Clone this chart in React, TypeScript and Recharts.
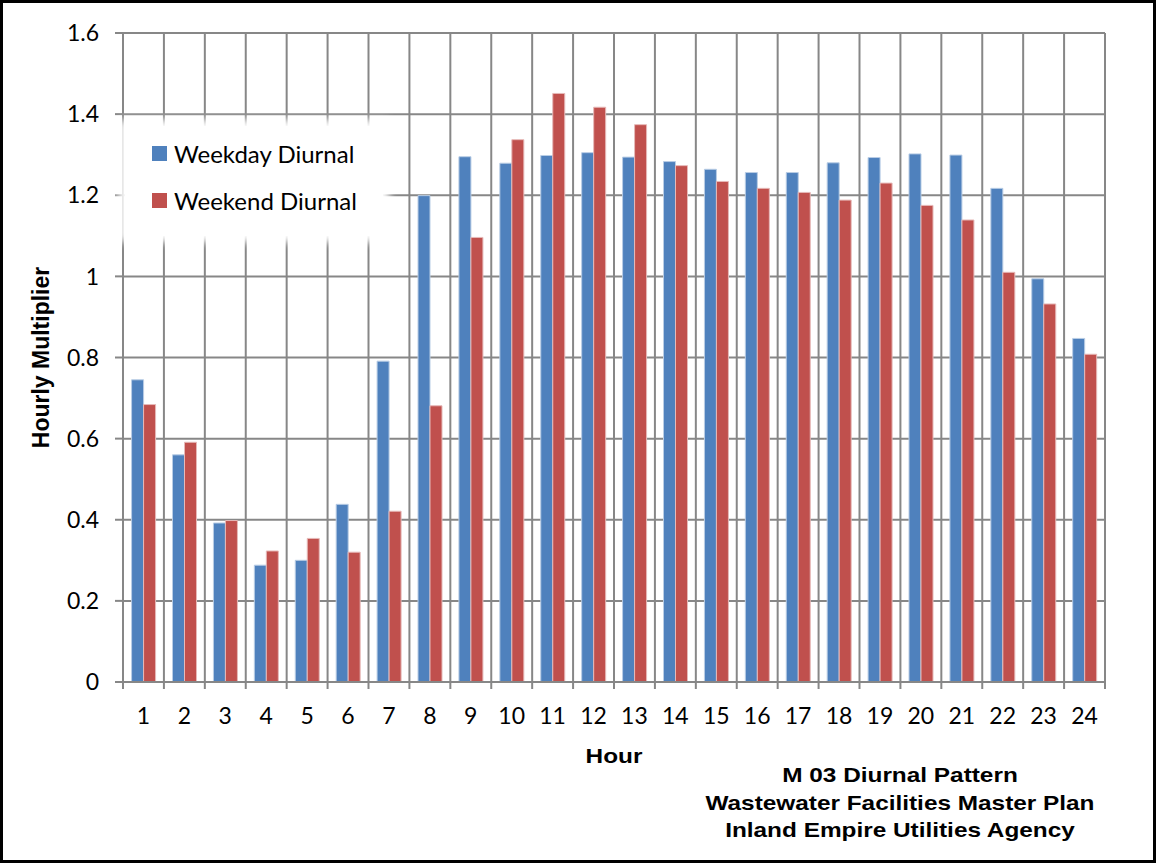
import React from "react";
import {
  BarChart,
  Bar,
  XAxis,
  YAxis,
  CartesianGrid,
} from "recharts";

const hours = ["1", "2", "3", "4", "5", "6", "7", "8", "9", "10", "11", "12", "13", "14", "15", "16", "17", "18", "19", "20", "21", "22", "23", "24"];
const weekday = [0.745, 0.56, 0.392, 0.288, 0.3, 0.438, 0.791, 1.199, 1.295, 1.279, 1.298, 1.305, 1.294, 1.283, 1.264, 1.256, 1.256, 1.28, 1.293, 1.302, 1.299, 1.217, 0.994, 0.847];
const weekend = [0.684, 0.591, 0.398, 0.323, 0.354, 0.32, 0.421, 0.681, 1.096, 1.337, 1.451, 1.417, 1.374, 1.273, 1.234, 1.217, 1.207, 1.188, 1.23, 1.175, 1.139, 1.01, 0.932, 0.808];
const yTicks = [0, 0.2, 0.4, 0.6, 0.8, 1, 1.2, 1.4, 1.6];
const titleLines = ["M 03 Diurnal Pattern", "Wastewater Facilities Master Plan", "Inland Empire Utilities Agency"];

const series = [
  { key: "weekday", name: "Weekday Diurnal", color: "#4F81BD", edge: "#b9cde5" },
  { key: "weekend", name: "Weekend Diurnal", color: "#C0504D", edge: "#e6b9b8" },
];

const data = hours.map((h, i) => ({ hour: h, weekday: weekday[i], weekend: weekend[i] }));

const GRID = "#878787";
const tickFont = { fill: "#000", fontSize: 23, fontFamily: "Lato, sans-serif" };
const boldFont = "'Liberation Sans', Arial, sans-serif";

// grid lines sit on the category boundaries, like Excel's "between tick marks"
const boundaryGrid = ({ offset }: any) =>
  Array.from({ length: hours.length + 1 }, (_, i) => offset.left + (offset.width * i) / hours.length);

// label in the middle of the band, tick mark on its left edge (and right edge for the last one)
function HourTick(props: any) {
  const { x, y, payload, index, width, visibleTicksCount } = props;
  const band = width / (visibleTicksCount || hours.length);
  const left = x - band / 2;
  const right = x + band / 2;
  return (
    <g>
      <line x1={left} x2={left} y1={y} y2={y + 7} stroke={GRID} strokeWidth={2} />
      {index === hours.length - 1 && <line x1={right} x2={right} y1={y} y2={y + 7} stroke={GRID} strokeWidth={2} />}
      <text x={x} y={y + 42} textAnchor="middle" style={tickFont} fill="#000">
        {payload.value}
      </text>
    </g>
  );
}

function LegendBox() {
  return (
    <div
      style={{
        position: "absolute",
        left: 125,
        top: 126,
        width: 258,
        height: 110,
        background: "#fff",
        boxShadow: "0 0 8px 6px #fff",
        fontFamily: "Lato, sans-serif",
        fontSize: 24,
        color: "#000",
        paddingTop: 4,
        boxSizing: "border-box",
      }}
    >
      {series.map((s) => (
        <div key={s.key} style={{ display: "flex", alignItems: "center", height: 47, paddingLeft: 27 }}>
          <span style={{ width: 15, height: 15, background: s.color, marginRight: 7, display: "inline-block" }} />
          <span>{s.name}</span>
        </div>
      ))}
    </div>
  );
}

export default function App() {
  return (
    <div style={{ position: "absolute", left: 0, top: 0, width: 1156, height: 867, background: "#fff", overflow: "hidden" }}>
      <BarChart
        width={1156}
        height={867}
        data={data}
        margin={{ top: 33, right: 51, left: 0, bottom: 0 }}
        barGap={0}
        barCategoryGap="21%"
      >
        <CartesianGrid stroke={GRID} strokeWidth={2} verticalCoordinatesGenerator={boundaryGrid} />
        <XAxis
          dataKey="hour"
          height={185}
          stroke={GRID}
          strokeWidth={2}
          tickLine={false}
          tickSize={0}
          tickMargin={0}
          interval={0}
          tick={<HourTick />}
        />
        <YAxis
          width={123}
          domain={[0, 1.6]}
          ticks={yTicks}
          tickSize={8}
          tickMargin={16}
          stroke={GRID}
          strokeWidth={2}
          tick={tickFont}
          label={{
            value: "Hourly Multiplier",
            angle: -90,
            position: "insideLeft",
            offset: 41,
            style: { textAnchor: "middle", fontFamily: boldFont, fontWeight: "bold", fontSize: 23, fill: "#000" },
          }}
        />
        {series.map((s) => (
          <Bar
            key={s.key}
            dataKey={s.key}
            name={s.name}
            fill={s.color}
            stroke={s.edge}
            strokeWidth={1}
            isAnimationActive={false}
          />
        ))}
      </BarChart>
      <LegendBox />
      <div
        style={{
          position: "absolute",
          left: 554,
          top: 744,
          width: 120,
          textAlign: "center",
          fontFamily: boldFont,
          fontWeight: "bold",
          fontSize: 21,
          transform: "scaleX(1.16)",
        }}
      >
        Hour
      </div>
      <div
        style={{
          position: "absolute",
          left: 660,
          top: 761,
          width: 480,
          textAlign: "center",
          fontFamily: boldFont,
          fontWeight: "bold",
          fontSize: 21,
          lineHeight: "27.5px",
          transform: "scaleX(1.16)",
        }}
      >
        {titleLines.map((t) => (
          <div key={t}>{t}</div>
        ))}
      </div>
      <div
        style={{
          position: "absolute",
          left: 0,
          top: 0,
          width: 1156,
          height: 863,
          border: "3px solid #000",
          boxSizing: "border-box",
          pointerEvents: "none",
        }}
      />
    </div>
  );
}
